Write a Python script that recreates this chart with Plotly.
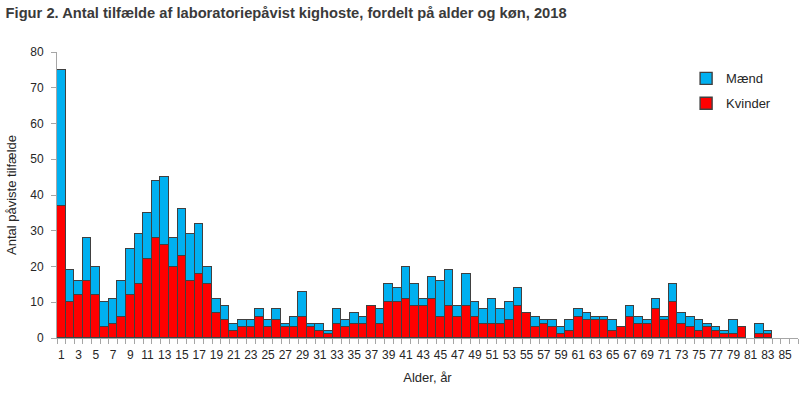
import plotly.graph_objects as go

ages = list(range(1, 87))
kvinder = [37,10,12,16,12,3,4,6,12,15,22,28,26,20,23,16,18,15,7,5,
           2,3,3,6,3,5,3,3,6,3,2,1,4,3,4,4,9,4,10,10,
           11,9,9,11,6,9,6,9,6,4,4,4,5,9,7,3,4,3,1,2,
           6,5,5,5,2,3,6,4,4,8,5,10,4,3,2,3,2,1,1,3,
           0,1,1,0,0,0]
maend = [38,9,4,12,8,7,7,10,13,14,13,16,19,8,13,13,14,5,4,4,
         2,2,2,2,2,3,1,3,7,1,2,1,4,2,3,2,0,4,5,4,
         9,6,2,6,10,10,3,9,4,4,7,4,5,5,0,3,1,2,2,3,
         2,2,1,1,3,0,3,2,1,3,1,5,3,3,3,1,1,1,4,0,
         0,3,1,0,0,0]
tick_labels = [str(a) for a in range(1, 86, 2)]

FONT = "Liberation Sans"
TXT = "#262626"
GRAY = "#A6A6A6"
EDGE = "#404040"

def nz(v):
    return [x if x != 0 else None for x in v]

fig = go.Figure()
fig.add_trace(go.Bar(x=ages, y=nz(kvinder), name="Kvinder", legendrank=2, legendgroup="k",
                     marker=dict(color="#FF0000", line=dict(color=EDGE, width=1.4))))
fig.add_trace(go.Bar(x=ages, y=nz(maend), name="Mænd", legendrank=1, legendgroup="m",
                     marker=dict(color="#00B0F0", line=dict(color=EDGE, width=1.4))))

fig.update_layout(
    width=800, height=396,
    margin=dict(l=57, r=2, t=52, b=58),
    barmode="stack", bargap=0,
    plot_bgcolor="white", paper_bgcolor="white",
    font=dict(family=FONT, size=12, color=TXT),
    title=dict(text="<b>Figur 2. Antal tilfælde af laboratoriepåvist kighoste, fordelt på alder og køn, 2018</b>",
               x=0.007, xanchor="left", y=0.967, yanchor="middle",
               font=dict(family=FONT, size=14.7, color="#3A3A3A")),
    legend=dict(x=0.849, y=0.96, xanchor="left", yanchor="top",
                traceorder="grouped", tracegroupgap=5,
                font=dict(family=FONT, size=13, color=TXT),
                bgcolor="rgba(0,0,0,0)"),
    xaxis=dict(range=[0.5, 86.5], tickmode="array", tickvals=list(range(1, 86, 2)),
               ticktext=tick_labels, ticks="", tickangle=0, automargin=False,
               ticklabelstandoff=6,
               showline=True, linecolor=GRAY, linewidth=1,
               showgrid=False, zeroline=False,
               tickfont=dict(family=FONT, size=12, color=TXT),
               minor=dict(tickmode="array", tickvals=[a + 0.5 for a in range(0, 87)],
                          ticks="outside", ticklen=5, tickcolor=GRAY, tickwidth=1, showgrid=False),
               title=dict(text="Alder, år", font=dict(family=FONT, size=13, color=TXT), standoff=11)),
    yaxis=dict(range=[0, 80], tickvals=list(range(0, 81, 10)), ticks="outside", ticklen=5,
               tickcolor=GRAY, showline=True, linecolor=GRAY, linewidth=1, automargin=False,
               ticklabelstandoff=5,
               showgrid=False, zeroline=False,
               tickfont=dict(family=FONT, size=12, color=TXT),
               title=dict(text="Antal påviste tilfælde", font=dict(family=FONT, size=13, color=TXT), standoff=10)),
)

fig.write_html("out.html", config={"displayModeBar": False},
               post_script="document.body.style.margin='0';")
